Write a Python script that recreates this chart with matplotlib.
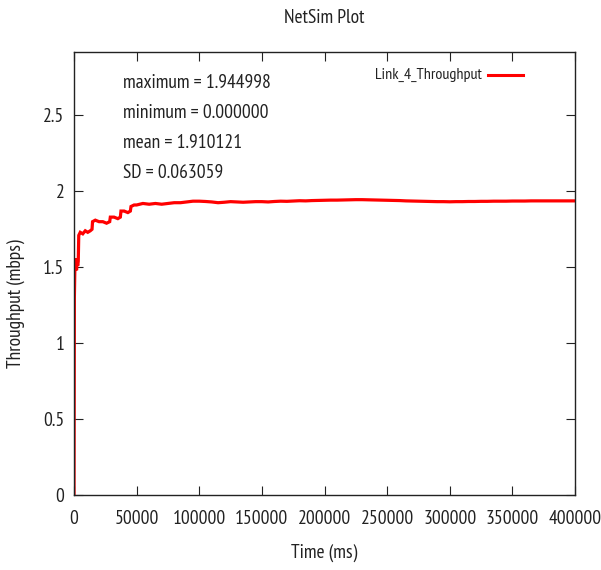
import matplotlib
matplotlib.use("Agg")
import matplotlib.pyplot as plt
from matplotlib.lines import Line2D
from matplotlib import font_manager

installed = set(f.name for f in font_manager.fontManager.ttflist)
candidates = [("PT Sans Narrow", 1.0), ("Liberation Sans Narrow", 1.0), ("Archivo Narrow", 1.0),
              ("Roboto Condensed", 0.95), ("Open Sans Condensed", 0.95), ("Asap Condensed", 0.95),
              ("Encode Sans Condensed", 0.9), ("DejaVu Sans", 0.75)]
font_name, scale = next((n, s) for n, s in candidates if n in installed)
plt.rcParams['font.family'] = [font_name, 'DejaVu Sans']

title = "NetSim Plot"
x_label = "Time (ms)"
y_label = "Throughput (mbps)"
series_name = "Link_4_Throughput"
stats_lines = ["maximum = 1.944998", "minimum = 0.000000", "mean = 1.910121", "SD = 0.063059"]
y_max_value = 1.944998
x_ticks = [0, 50000, 100000, 150000, 200000, 250000, 300000, 350000, 400000]
y_ticks = [0, 0.5, 1, 1.5, 2, 2.5]
y_tick_labels = ["0", "0.5", "1", "1.5", "2", "2.5"]

time_ms = [0, 300, 600, 900, 1200, 1600, 2000, 2500, 3000, 3400, 3800, 5000, 7000, 9000,
           11000, 13000, 14400, 14800, 17000, 20000, 23000, 26000, 28500, 29000, 32000,
           35000, 37000, 37500, 40000, 43000, 45000, 45500, 48000, 50000, 55000, 60000,
           65000, 70000, 75000, 80000, 85000, 90000, 95000, 100000, 105000, 110000, 115000,
           120000, 125000, 130000, 135000, 140000, 145000, 150000, 155000, 160000, 165000,
           170000, 175000, 180000, 185000, 190000, 195000, 200000, 205000, 210000, 215000,
           220000, 225000, 230000, 235000, 240000, 245000, 250000, 255000, 260000, 265000,
           270000, 275000, 280000, 285000, 290000, 295000, 300000, 305000, 310000, 315000,
           320000, 325000, 330000, 335000, 340000, 345000, 350000, 355000, 360000, 365000,
           370000, 375000, 380000, 385000, 390000, 395000, 400000]
throughput = [0.0, 1.30, 1.45, 1.56, 1.50, 1.55, 1.48, 1.53, 1.51, 1.54, 1.71, 1.73, 1.72, 1.74,
              1.73, 1.74, 1.75, 1.80, 1.81, 1.80, 1.80, 1.79, 1.80, 1.83, 1.83,
              1.82, 1.83, 1.87, 1.87, 1.86, 1.87, 1.90, 1.91, 1.91, 1.92, 1.915,
              1.92, 1.915, 1.92, 1.925, 1.925, 1.93, 1.935, 1.935, 1.933, 1.93, 1.925,
              1.928, 1.932, 1.93, 1.928, 1.93, 1.932, 1.932, 1.93, 1.933, 1.935,
              1.934, 1.936, 1.938, 1.937, 1.939, 1.94, 1.941, 1.942, 1.942, 1.943,
              1.944, 1.945, 1.945, 1.944, 1.943, 1.942, 1.941, 1.94, 1.939, 1.937,
              1.936, 1.935, 1.934, 1.933, 1.932, 1.932, 1.931, 1.932, 1.932, 1.933,
              1.933, 1.934, 1.934, 1.935, 1.935, 1.935, 1.936, 1.936, 1.936, 1.937,
              1.937, 1.937, 1.937, 1.937, 1.937, 1.937, 1.937]

W, H = 601, 570
fig = plt.figure(figsize=(W / 100, H / 100), dpi=100)
L, R, T, B = 74, 575, 52, 495
ax = fig.add_axes([L / W, 1 - B / H, (R - L) / W, (B - T) / H])

ax.plot(time_ms, throughput, color='#ff0000', lw=2.3, solid_joinstyle='miter')
ax.set_xlim(0, 400000)
ax.set_ylim(0, y_max_value * 1.5)
ax.set_xticks(x_ticks)
ax.set_xticklabels([str(v) for v in x_ticks])
ax.set_yticks(y_ticks)
ax.set_yticklabels(y_tick_labels)
fs = 14 * scale
ax.tick_params(direction='in', length=6.5, width=0.8, top=True, right=True,
               labelsize=fs, colors='#222222')
ax.tick_params(axis='x', pad=11)
ax.tick_params(axis='y', pad=7)
for s in ax.spines.values():
    s.set_linewidth(1.0)
    s.set_color('#222222')

fig.text(324.5 / W, 1 - 18 / H, title, ha='center', va='center', fontsize=fs, color='#222222')
fig.text(324.5 / W, 1 - 553 / H, x_label, ha='center', va='center', fontsize=fs, color='#222222')
fig.text(16 / W, 1 - 368 / H, y_label, ha='center', va='bottom', rotation=90, fontsize=fs, color='#222222')

for i, t in enumerate(stats_lines):
    fig.text(123 / W, 1 - (83 + 30 * i) / H, t, ha='left', va='center', fontsize=fs, color='#222222')

fig.text(482 / W, 1 - 75 / H, series_name, ha='right', va='center', fontsize=11.5 * scale, color='#222222')
fig.add_artist(Line2D([488 / W, 523 / W], [1 - 75 / H, 1 - 75 / H], color='#ff0000', lw=2.2,
                      transform=fig.transFigure))

fig.savefig("out.png", dpi=100)
